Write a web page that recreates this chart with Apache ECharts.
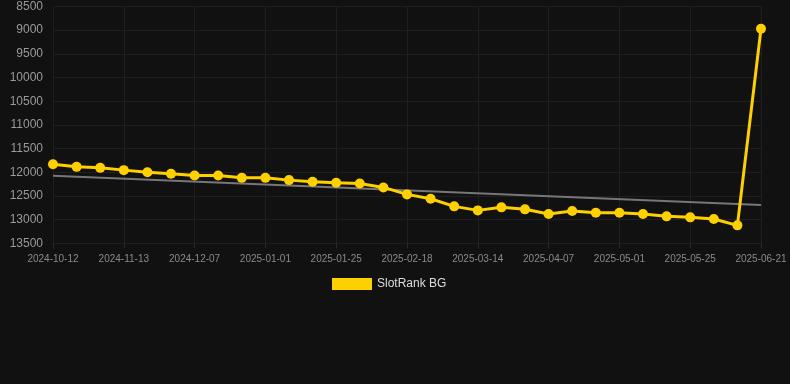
<!DOCTYPE html>
<html>
<head>
<meta charset="utf-8">
<style>
  html, body { margin: 0; padding: 0; background: #111111; }
  #chart { width: 790px; height: 384px; }
</style>
<script src="https://cdn.jsdelivr.net/npm/echarts@6/dist/echarts.min.js"></script>
</head>
<body>
<div id="chart"></div>
<script>
const dates = [
  '2024-10-12', '2024-10-23', '2024-11-03', '2024-11-13', '2024-11-21',
  '2024-11-29', '2024-12-07', '2024-12-15', '2024-12-24', '2025-01-01',
  '2025-01-09', '2025-01-17', '2025-01-25', '2025-02-02', '2025-02-10',
  '2025-02-18', '2025-02-26', '2025-03-06', '2025-03-14', '2025-03-22',
  '2025-03-30', '2025-04-07', '2025-04-15', '2025-04-23', '2025-05-01',
  '2025-05-09', '2025-05-17', '2025-05-25', '2025-06-02', '2025-06-10',
  '2025-06-21'
];

const rankValues = [
  11830, 11886, 11907, 11955, 11998, 12033, 12067, 12070, 12118, 12118,
  12166, 12202, 12223, 12236, 12320, 12467, 12560, 12720, 12805, 12741,
  12783, 12883, 12819, 12855, 12855, 12883, 12931, 12952, 12988, 13121,
  8970
];

// trend line end points
const trendValues = [12076, 12693];

const yTicks = { min: 8500, max: 13500, interval: 500 };

const chart = echarts.init(document.getElementById('chart'));

const gridColor = '#1f1f1f';
const yellow = '#ffd000';

chart.setOption({
  backgroundColor: '#111111',
  animation: false,
  textStyle: { fontFamily: 'Liberation Sans, Arial, sans-serif' },
  legend: {
    data: ['SlotRank BG'],
    left: 327,
    top: 273,
    itemWidth: 40,
    itemHeight: 12,
    itemGap: 6,
    icon: 'rect',
    textStyle: { color: '#dddddd', fontSize: 12 }
  },
  grid: {
    left: 53,
    right: 29,
    top: 6.5,
    bottom: 140.7,
    containLabel: false
  },
  xAxis: {
    type: 'category',
    data: dates,
    boundaryGap: false,
    axisLine: { lineStyle: { color: gridColor } },
    axisTick: { show: true, interval: 2, lineStyle: { color: '#2a2a2a' } },
    axisLabel: {
      interval: 2,
      color: '#8a8a8a',
      fontSize: 10,
      margin: 11
    },
    splitLine: {
      show: true,
      interval: 2,
      lineStyle: { color: gridColor }
    }
  },
  yAxis: {
    type: 'value',
    inverse: true,
    min: yTicks.min,
    max: yTicks.max,
    interval: yTicks.interval,
    axisLine: { show: false },
    axisTick: { show: false },
    axisLabel: {
      color: '#9a9a9a',
      fontSize: 12,
      margin: 10,
      formatter: value => String(value)
    },
    splitLine: { lineStyle: { color: gridColor } }
  },
  series: [
    {
      name: 'Trend',
      type: 'line',
      data: [
        [dates[0], trendValues[0]],
        [dates[dates.length - 1], trendValues[1]]
      ],
      symbol: 'none',
      lineStyle: { color: '#777777', width: 2 },
      z: 1
    },
    {
      name: 'SlotRank BG',
      type: 'line',
      data: rankValues,
      symbol: 'circle',
      symbolSize: 10,
      itemStyle: { color: yellow },
      lineStyle: { color: yellow, width: 3 },
      z: 3
    }
  ]
});
</script>
</body>
</html>
